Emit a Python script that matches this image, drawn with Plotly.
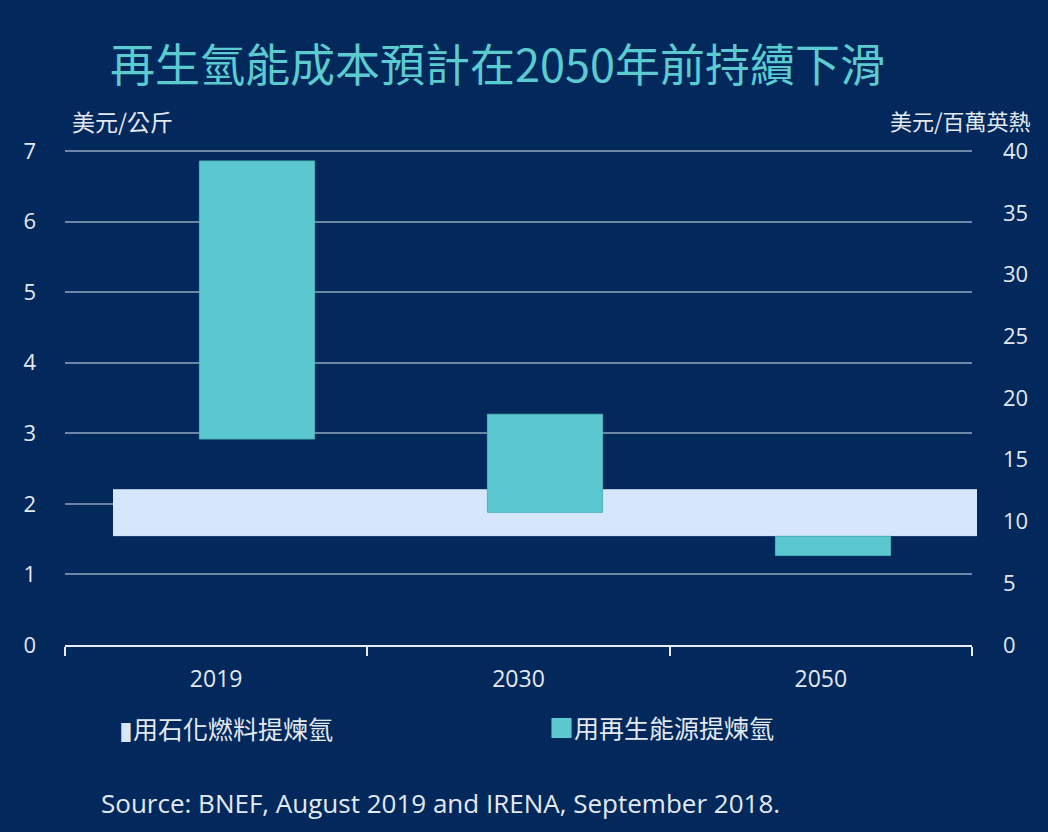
import plotly.graph_objects as go

categories = ["2019", "2030", "2050"]
renew_low = [2.92, 1.88, 1.27]
renew_high = [6.86, 3.27, 1.54]
fossil_low = [1.55, 1.55, 1.55]
fossil_high = [2.2, 2.2, 2.2]
left_ticks = [0, 1, 2, 3, 4, 5, 6, 7]
right_ticks = [0, 5, 10, 15, 20, 25, 30, 35, 40]
names = ["用石化燃料提煉氫", "用再生能源提煉氫"]
title = "再生氫能成本預計在2050年前持續下滑"
unit_left = "美元/公斤"
unit_right = "美元/百萬英熱"
source = "Source: BNEF, August 2019 and IRENA, September 2018."

BG = "#02285c"
TEAL = "#5bc8cf"
BAND = "#d6e7fb"
TXT = "#e4e8ef"
CJK = "Noto Sans CJK TC"

fig = go.Figure()

# invisible traces for the category axis, the grid axis and the right axis
fig.add_trace(go.Scatter(x=categories, y=[None] * 3, xaxis="x", yaxis="y3",
                         showlegend=False, hoverinfo="skip"))
fig.add_trace(go.Scatter(x=categories, y=[None] * 3, xaxis="x", yaxis="y2",
                         showlegend=False, hoverinfo="skip"))

# fossil band (floating bars, full category width, on secondary x axis)
fig.add_trace(go.Bar(
    x=categories, y=[h - l for h, l in zip(fossil_high, fossil_low)], base=fossil_low,
    width=1.0, marker=dict(color=BAND, line=dict(color=BAND, width=1)),
    name=names[0], xaxis="x2", yaxis="y", showlegend=False, hoverinfo="skip"))

# renewable floating bars
fig.add_trace(go.Bar(
    x=categories, y=[h - l for h, l in zip(renew_high, renew_low)], base=renew_low,
    width=0.4, marker=dict(color=TEAL, line=dict(color="#4fb3bb", width=1)),
    name=names[1], xaxis="x2", yaxis="y", showlegend=False))

W, H = 1048, 832
ml, mr, mt, mb = 65, 71, 149, 187
pw = W - ml - mr
ph = H - mt - mb
YR = [0, 7.03]
Y2R = [0, 40 * 7.03 / 7]

fig.update_layout(
    width=W, height=H,
    paper_bgcolor=BG, plot_bgcolor="rgba(0,0,0,0)",
    margin=dict(l=ml, r=mr, t=mt, b=mb),
    barmode="overlay",
    showlegend=False,
    font=dict(family=CJK, color=TXT, size=20),
    xaxis=dict(domain=[0, (972 - ml) / pw], type="category",
               categoryorder="array", categoryarray=categories,
               range=[-0.5, 2.5], tickson="boundaries", ticks="outside",
               ticklen=9, tickwidth=2, tickcolor="#e8ecf2",
               showline=True, linecolor="#e8ecf2", linewidth=2,
               showgrid=False, zeroline=False, anchor="y",
               tickfont=dict(family="Open Sans", size=23, color=TXT),
               ticklabelstandoff=12),
    xaxis2=dict(domain=[(113 - ml) / pw, 1], type="category",
                categoryorder="array", categoryarray=categories,
                range=[-0.5, 2.5], visible=False, anchor="y",
                showgrid=False, zeroline=False),
    yaxis=dict(range=YR, tickvals=left_ticks, showgrid=False, anchor="x",
               zeroline=False, showline=False, ticks="",
               tickfont=dict(family="Open Sans", size=22, color=TXT),
               ticklabelstandoff=28),
    yaxis3=dict(range=YR, tickvals=left_ticks, overlaying="y", anchor="x",
                showgrid=True, gridcolor="rgba(200,210,225,0.55)", gridwidth=1.5,
                showticklabels=False, zeroline=False, showline=False, ticks=""),
    yaxis2=dict(range=Y2R, tickvals=right_ticks, overlaying="y", side="right",
                anchor="x", showgrid=False, zeroline=False, showline=False,
                tickfont=dict(family="Open Sans", size=22, color=TXT),
                ticklabelstandoff=30),
    annotations=[
        dict(text=title, x=497, y=62, showarrow=False,
             font=dict(family=CJK, size=45, color="#5ccbd0")),
        dict(text=unit_left, x=70, y=121, showarrow=False, xanchor="left",
             font=dict(family=CJK, size=23, color=TXT)),
        dict(text=unit_right, x=1033, y=120, showarrow=False, xanchor="right",
             font=dict(family=CJK, size=22, color=TXT)),
        dict(text=f"<span style='color:{BAND}'>▮</span>" + names[0], x=117, y=728,
             showarrow=False, xanchor="left", font=dict(family=CJK, size=25, color=TXT)),
        dict(text=f"<span style='color:{TEAL}'>■</span>" + names[1], x=547, y=727,
             showarrow=False, xanchor="left", font=dict(family=CJK, size=25, color=TXT)),
        dict(text=source, x=99, y=803, showarrow=False, xanchor="left",
             font=dict(family="Open Sans", size=26, color=TXT)),
    ],
)

# convert pixel positions of annotations to paper coords
for a in fig.layout.annotations:
    px, py = a.x, a.y
    a.x = (px - ml) / pw
    a.y = 1 - (py - mt) / ph
    a.xref = "paper"
    a.yref = "paper"
    a.yanchor = "middle"

fig.write_html("out.html", config={"displayModeBar": False})

# remove default page margin so the figure sits at the window origin
with open("out.html", "r", encoding="utf-8") as f:
    html = f.read()
html = html.replace("<head>", "<head><style>html,body{margin:0;padding:0;background:%s;overflow:hidden}</style>" % BG, 1)
with open("out.html", "w", encoding="utf-8") as f:
    f.write(html)
